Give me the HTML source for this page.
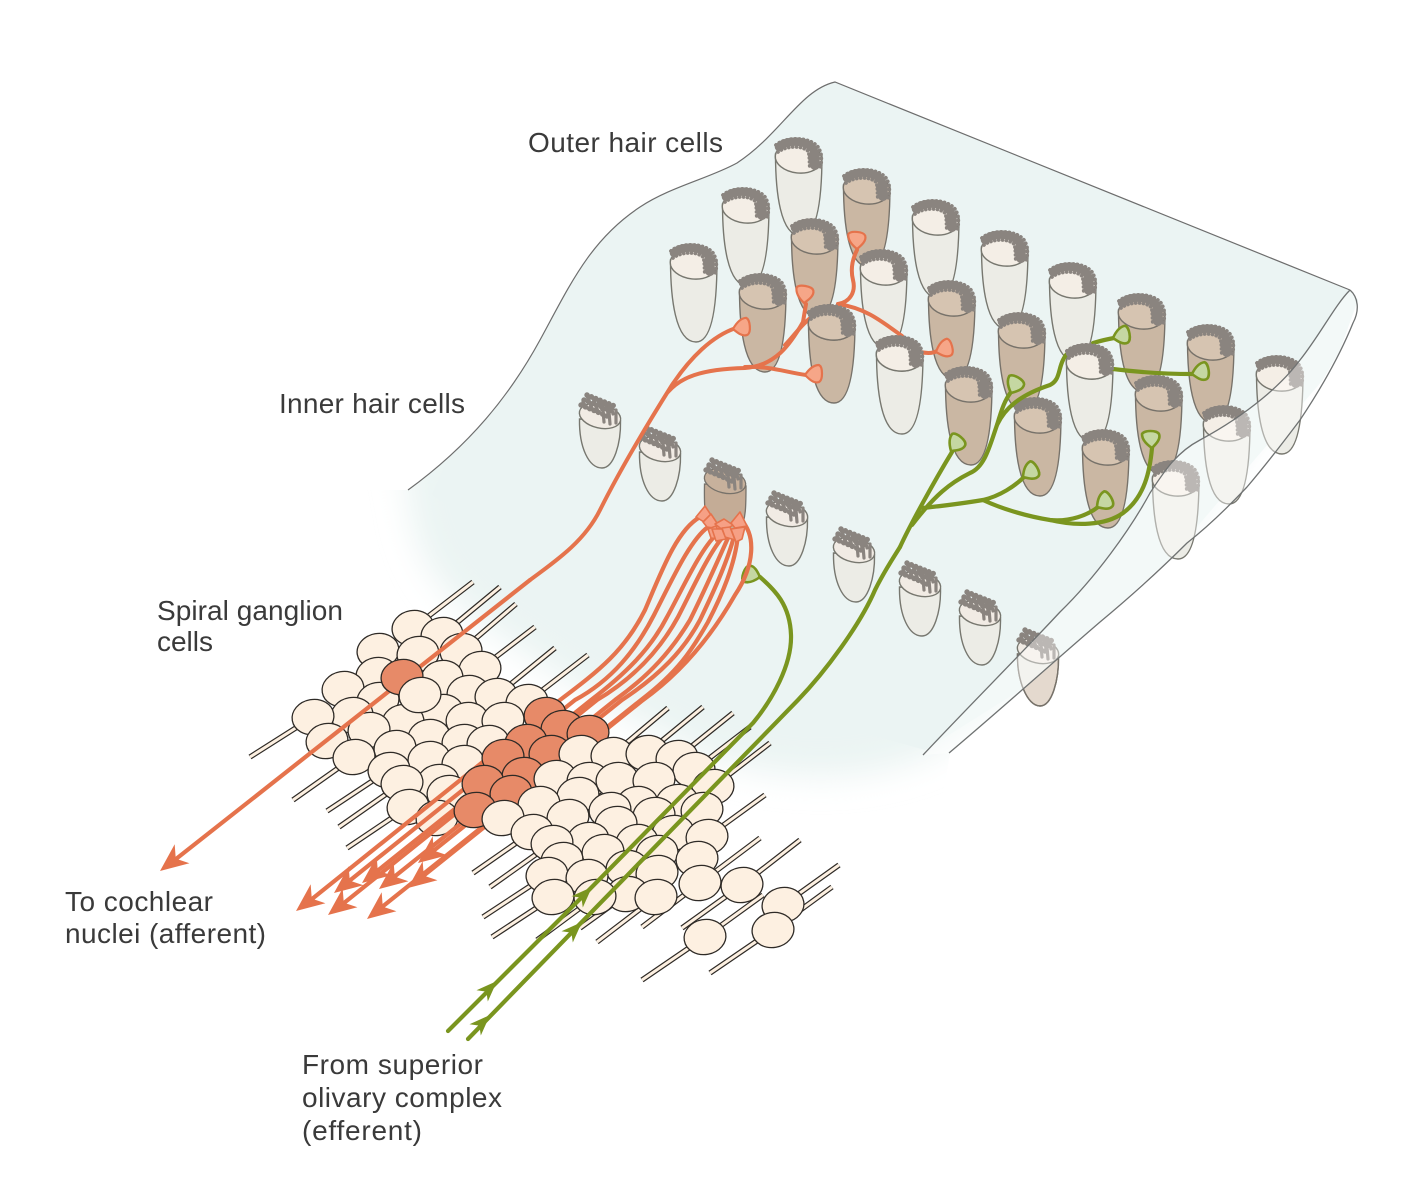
<!DOCTYPE html>
<html lang="en"><head><meta charset="utf-8"><title>Cochlear innervation</title>
<style>
html,body{margin:0;padding:0;background:#fff}
svg{display:block}
text{font-family:"Liberation Sans",sans-serif;font-size:28px;fill:#3a3a3a}
</style></head><body>
<svg xmlns="http://www.w3.org/2000/svg" width="1406" height="1191" viewBox="0 0 1406 1191">
<defs>
<filter id="bl" x="-20%" y="-20%" width="140%" height="140%"><feGaussianBlur stdDeviation="16"/></filter>
<clipPath id="sheetClip"><path d="M408 490C470 445 510 395 540 340C570 285 590 240 640 207C670 187 710 178 737 163C780 135 800 90 835 82L1350 290L1358 300L1340 350L1300 420L1247 487L1187 543L1100 622L950 753L925 900L300 900L300 490Z"/></clipPath>
<clipPath id="upperClip"><path d="M900 500L1100 500L1100 622L949 753L900 760Z"/></clipPath>

<g id="tuftO" fill="none" stroke="#8a847f" stroke-linecap="round">
<path d="M4 11C11 4 30 3 38 13C41 18 41 23 40 27" stroke-width="8.5"/>
<path d="M38 20L40 29" stroke-width="10"/>
<path d="M1 9C10 1 34 0 43 11C47 17 47 26 45 32" stroke-width="3.8" stroke-dasharray="0.1 4"/>
<path d="M3 16C11 10 26 9 33 15C35 20 34 27 35 33" stroke-width="3.6" stroke-dasharray="0.1 3.8"/>
</g>
<g id="ohcP">
<path d="M.5 18C.5 55 5 100 26 100C42 100 47 65 47 18Z" fill="#ecece6" stroke="#77776f" stroke-width="1.4"/>
<ellipse cx="23.5" cy="22" rx="23.3" ry="15" fill="#f4eee6" stroke="#77776f" stroke-width="1.4" transform="rotate(6 23.5 22)"/>
<use href="#tuftO"/>
</g>
<g id="ohcT">
<path d="M.5 18C.5 55 5 100 26 100C42 100 47 65 47 18Z" fill="#cab7a3" stroke="#77726a" stroke-width="1.4"/>
<ellipse cx="23.5" cy="22" rx="23.3" ry="15" fill="#d6c4b1" stroke="#77726a" stroke-width="1.4" transform="rotate(6 23.5 22)"/>
<use href="#tuftO"/>
</g>
<g id="topP"><ellipse cx="23.5" cy="22" rx="23.3" ry="15" fill="#f4eee6" stroke="#77776f" stroke-width="1.4" transform="rotate(6 23.5 22)"/><use href="#tuftO"/></g>
<g id="topT"><ellipse cx="23.5" cy="22" rx="23.3" ry="15" fill="#d6c4b1" stroke="#77726a" stroke-width="1.4" transform="rotate(6 23.5 22)"/><use href="#tuftO"/></g>

<g id="tuftI" fill="none" stroke="#8a847f" stroke-linecap="round">
<path d="M8 2L38 14M5 7L35 19M2 12L28 23M12 4L36 17" stroke-width="5.4" stroke-dasharray="0.1 4.6"/>
<path d="M8 3L11 11M14 5L17 14M20 7L23 17M26 10L29 20M32 12L34 21M10 9L13 15M17 12L19 19M24 17L25 29M30 19L31 31M37 17L37 30M4 9L8 15" stroke-width="3.2"/>
</g>
<g id="ihcP">
<path d="M.5 26C0 55 10 75 23 75C35 75 42 50 41.5 28Z" fill="#ecece6" stroke="#77776f" stroke-width="1.4"/>
<ellipse cx="21" cy="23" rx="21" ry="12" fill="#f1ebe4" stroke="#77776f" stroke-width="1.4" transform="rotate(13 21 23)"/>
<use href="#tuftI"/>
</g>

<g id="tO"><path d="M0 0C4 -6 9 -10 14 -10C18 -8 18 5 14 7C9 9 4 4 0 0Z" fill="#f6a688" stroke="#e5734c" stroke-width="2.2" stroke-linejoin="round"/></g>
<g id="tG"><path d="M0 0C4 -6 9 -10 14 -10C18 -8 18 5 14 7C9 9 4 4 0 0Z" fill="#c5d7a2" stroke="#7a951f" stroke-width="2.6" stroke-linejoin="round"/></g>
<path id="aO" d="M0 0L28 -12L20 0L28 12Z" fill="#e5734c"/>
<path id="aG" d="M0 0L21 -8L15 0L21 8Z" fill="#7a951f"/>
<ellipse id="g" cx="0" cy="0" rx="21" ry="17.5" transform="rotate(-10)"/>
<path id="tails" d="M413 628L473 582M442 635L500 587M461 651L516 604M480 669L535 627M496 696L555 648M527 702L588 655M612 755L668 708M647 753L703 707M677 758L733 713M694 770L750 727M713 787L770 743M707 837L765 795M700 883L760 838M742 885L800 840M705 937L763 895M773 930L832 887M783 905L839 865M313 717L250 757M354 757L293 800M389 770L327 811M402 783L339 827M408 807L347 848M532 832L473 873M552 843L490 887M547 875L483 917M553 897L492 937M595 897L537 940M656 897L597 942M700 883L642 927M742 885L682 928M705 937L642 980M773 930L710 973M627 894L580 928"/>
</defs>

<!-- sheet -->
<g clip-path="url(#sheetClip)">
<path d="M400 470L840 70L1370 280L1120 640L930 755C850 790 750 778 690 748C620 715 560 680 500 636C445 600 412 560 408 490Z" fill="#ebf4f3" filter="url(#bl)"/>
<path d="M432 495L600 100L835 60L1400 290L1100 640L925 750L800 715L600 610L470 520Z" fill="#ebf4f3"/>
</g>
<path d="M408 490C470 445 510 395 540 340C570 285 590 240 640 207C670 187 710 178 737 163C780 135 800 90 835 82L1350 290" fill="none" stroke="#6d6d6d" stroke-width="1.2"/>

<!-- inner hair cells -->
<use href="#ihcP" x="579" y="393"/>
<use href="#ihcP" x="639" y="426"/>
<path d="M704.5 484C704 510 705 522 712 530L740 530C746 520 746 505 746 486Z" fill="#c4ac96" stroke="#77726a" stroke-width="1.3"/>
<ellipse cx="725" cy="481" rx="21" ry="12" fill="#c7b19c" stroke="#77726a" stroke-width="1.3" transform="rotate(13 725 481)"/>
<use href="#tuftI" x="704" y="458"/>
<use href="#ihcP" x="766" y="491"/>
<use href="#ihcP" x="833" y="527"/>
<use href="#ihcP" x="899" y="561"/>
<use href="#ihcP" x="959" y="590"/>
<path d="M1017.500 654C1017 680 1027 706 1040 706C1052 706 1059 680 1058.500 656Z" fill="#e4d9ce" stroke="#77726a" stroke-width="1.4"/>
<g clip-path="url(#upperClip)"><path d="M1017.500 654C1017 680 1027 706 1040 706C1052 706 1059 680 1058.500 656Z" fill="#eaeae4"/></g>
<path d="M1017.500 654C1017 680 1027 706 1040 706C1052 706 1059 680 1058.500 656Z" fill="none" stroke="#77726a" stroke-width="1.4"/>
<ellipse cx="1038" cy="651" rx="21" ry="12" fill="#f1ebe4" stroke="#77776f" stroke-width="1.4" transform="rotate(13 1038 651)"/>
<use href="#tuftI" x="1017" y="628"/>

<!-- outer hair cells -->
<use href="#ohcP" x="775" y="136"/>
<use href="#ohcT" x="843" y="167"/>
<use href="#ohcP" x="722" y="186"/>
<use href="#ohcP" x="912" y="198"/>
<use href="#ohcT" x="791" y="217"/>
<use href="#ohcP" x="981" y="229"/>
<use href="#ohcP" x="670" y="242"/>
<use href="#ohcP" x="860" y="248"/>
<use href="#ohcP" x="1049" y="261"/>
<use href="#ohcT" x="739" y="272"/>
<use href="#ohcT" x="928" y="279"/>
<use href="#ohcT" x="1118" y="292"/>
<use href="#ohcT" x="808" y="303"/>
<use href="#ohcT" x="998" y="311"/>
<use href="#ohcT" x="1187" y="323"/>
<use href="#ohcP" x="876" y="334"/>
<use href="#ohcP" x="1066" y="342"/>
<use href="#ohcP" x="1256" y="354"/>
<use href="#ohcT" x="945" y="365"/>
<use href="#ohcT" x="1135" y="374"/>
<use href="#ohcT" x="1014" y="396"/>
<use href="#ohcP" x="1203" y="404"/>
<use href="#ohcT" x="1082" y="428"/>
<use href="#ohcP" x="1152" y="459"/>

<!-- upper fibres -->
<g fill="none" stroke-linecap="round" stroke-linejoin="round">
<g stroke="#e5734c" stroke-width="4">
<path d="M736 328C712 336 690 358 672 385C650 420 620 470 600 510C585 540 560 558 530 580"/>
<path d="M668 392C680 378 700 369 745 368C775 366 790 345 803 322L806 304"/>
<path d="M745 367C770 366 785 372 806 375"/>
<path d="M785 345C795 335 800 325 820 310"/>
<path d="M838 304C850 302 856 292 853 280C850 268 853 258 857 250"/>
<path d="M838 304C865 308 880 320 902 336"/>
<path d="M920 352C925 353 932 354 937 351"/>
</g>
<g stroke="#7a951f" stroke-width="4.2">
<path d="M900 547C910 525 935 480 952 452"/>
<path d="M912 525C935 495 950 483 970 473C985 467 990 445 997 425C1002 408 1005 400 1011 392"/>
<path d="M923 508C950 505 965 503 983 500C1000 496 1015 486 1024 477"/>
<path d="M983 500C1000 508 1025 516 1050 520C1070 522 1088 515 1098 507"/>
<path d="M1050 520C1075 526 1105 526 1123 513C1145 497 1150 470 1152 448"/>
<path d="M997 425C1005 408 1020 395 1050 385C1060 380 1058 370 1063 360C1065 356 1066 354 1070 352"/>
<path d="M1093 343C1100 341 1108 339 1114 338"/>
<path d="M1113 369C1145 373 1170 374 1193 374"/>
</g>
</g>
<use href="#tO" transform="translate(733 329) rotate(-5)"/>
<use href="#tO" transform="translate(804 303) rotate(-80)"/>
<use href="#tO" transform="translate(805 375) rotate(0)"/>
<use href="#tO" transform="translate(857 249) rotate(-85)"/>
<use href="#tO" transform="translate(936 352) rotate(-15)"/>
<use href="#tG" transform="translate(1011 393) rotate(-60)"/>
<use href="#tG" transform="translate(951 451) rotate(-50)"/>
<use href="#tG" transform="translate(1023 477) rotate(-30)"/>
<use href="#tG" transform="translate(1097 507) rotate(-30)"/>
<use href="#tG" transform="translate(1152 448) rotate(-90)"/>
<use href="#tG" transform="translate(1113 338) rotate(-10)"/>
<use href="#tG" transform="translate(1192 374) rotate(-8)"/>
<use href="#tG" transform="translate(760 577) rotate(200)"/>
<use href="#topT" x="808" y="303"/>
<use href="#topP" x="876" y="334"/>
<use href="#topP" x="1066" y="342"/>

<!-- front flap -->
<path d="M1350 290C1335 305 1320 335 1300 360C1283 383 1250 413 1200 440C1177 452 1165 470 1150 493C1130 530 1095 578 1060 612C1020 655 970 705 923 755L949 753C1000 710 1050 665 1100 622C1130 597 1160 570 1187 543C1210 525 1230 505 1247 487C1270 460 1285 440 1300 420C1320 390 1340 355 1353 323C1360 310 1358 297 1350 290Z" fill="#fff" fill-opacity=".42"/>
<path d="M1350 290C1335 305 1320 335 1300 360C1283 383 1250 413 1200 440C1177 452 1165 470 1150 493C1130 530 1095 578 1060 612C1020 655 970 705 923 755" fill="none" stroke="#6f7272" stroke-width="1.3"/>
<path d="M1350 290C1358 297 1360 310 1353 323C1340 355 1320 390 1300 420C1285 440 1270 460 1247 487C1230 505 1210 525 1187 543C1160 570 1130 597 1100 622C1050 665 1000 710 949 753" fill="none" stroke="#6f7272" stroke-width="1.3"/>

<!-- ganglion tails -->
<g fill="none">
<use href="#tails" stroke="#2e2a26" stroke-width="5.4"/>
<use href="#tails" stroke="#fdf0e1" stroke-width="3"/>
</g>

<!-- ganglion cells (back) -->
<g fill="#fdf0e1" stroke="#2e2a26" stroke-width="1.3">
<use href="#g" x="413" y="628"/><use href="#g" x="442" y="635"/><use href="#g" x="378" y="651"/><use href="#g" x="461" y="651"/><use href="#g" x="418" y="654"/><use href="#g" x="480" y="669"/><use href="#g" x="377" y="675"/><use href="#g" x="442" y="678"/><use href="#g" x="343" y="689"/><use href="#g" x="468" y="693"/><use href="#g" x="496" y="696"/><use href="#g" x="378" y="700"/><use href="#g" x="527" y="702"/><use href="#g" x="352" y="715"/><use href="#g" x="313" y="717"/><use href="#g" x="442" y="712"/><use href="#g" x="467" y="720"/><use href="#g" x="503" y="720"/><use href="#g" x="403" y="722"/><use href="#g" x="369" y="730"/><use href="#g" x="429" y="737"/><use href="#g" x="463" y="742"/><use href="#g" x="488" y="743"/><use href="#g" x="327" y="741"/><use href="#g" x="395" y="748"/><use href="#g" x="354" y="757"/><use href="#g" x="429" y="759"/><use href="#g" x="463" y="763"/><use href="#g" x="389" y="770"/><use href="#g" x="438" y="782"/><use href="#g" x="402" y="783"/><use href="#g" x="448" y="793"/><use href="#g" x="408" y="807"/><use href="#g" x="437" y="818"/>
</g>

<!-- afferent fibres -->
<g fill="none" stroke="#e5734c" stroke-width="4.2" stroke-linecap="round">
<path d="M530 580L176 859"/>
<path d="M700 517C677 530 662 570 645 610C625 650 600 670 560 700L312 899"/>
<path d="M708 527C690 540 672 580 654 615C636 650 612 680 575 700L348 882"/>
<path d="M716 535C700 550 682 590 667 617C650 650 624 675 591 700L376 872"/>
<path d="M722 538C708 555 692 590 678 617C660 650 634 678 597 700L344 903"/>
<path d="M728 538C718 560 705 590 690 620C672 650 650 675 615 700L394 877"/>
<path d="M733 540C726 565 712 595 700 620C684 650 660 675 622 700L432 852"/>
<path d="M738 535C735 565 722 595 708 622C692 650 678 672 641 700L382 907"/>
<path d="M741 520C756 535 755 565 735 595C715 630 685 670 643 700L422 877"/>
</g>
<use href="#aO" transform="translate(160 871) rotate(-38)"/>
<use href="#aO" transform="translate(296 911) rotate(-38)"/>
<use href="#aO" transform="translate(334 893) rotate(-38)"/>
<use href="#aO" transform="translate(328 915) rotate(-38)"/>
<use href="#aO" transform="translate(362 883) rotate(-38)"/>
<use href="#aO" transform="translate(367 919) rotate(-38)"/>
<use href="#aO" transform="translate(379 889) rotate(-38)"/>
<use href="#aO" transform="translate(408 888) rotate(-38)"/>
<use href="#aO" transform="translate(418 863) rotate(-38)"/>

<!-- IHC terminals -->
<g fill="#f6a085" stroke="#e5734c" stroke-width="1.6" stroke-linejoin="round">
<path d="M696 517L705 506L713 518L704 522Z"/>
<path d="M703 522L711 514L721 529L707 527Z"/>
<path d="M715 524L724 519L733 525L724 531Z"/>
<path d="M731 523L740 512L747 526L735 528Z"/>
<path d="M708 529L716 526L721 539L711 538Z"/>
<path d="M722 528L730 527L735 540L725 537Z"/>
<path d="M731 529L745 527L742 539L736 542Z"/>
<path d="M712 529L722 529L726 539L716 541Z"/>
</g>

<!-- ganglion salmon -->
<g fill="#e78a68" stroke="#2e2a26" stroke-width="1.3">
<use href="#g" x="402" y="677"/><use href="#g" x="545" y="715"/><use href="#g" x="562" y="728"/><use href="#g" x="588" y="733"/><use href="#g" x="526" y="742"/><use href="#g" x="550" y="753"/><use href="#g" x="503" y="757"/><use href="#g" x="523" y="775"/><use href="#g" x="483" y="783"/><use href="#g" x="511" y="793"/><use href="#g" x="475" y="810"/>
</g>

<!-- ganglion cells (front) -->
<g fill="#fdf0e1" stroke="#2e2a26" stroke-width="1.3">
<use href="#g" x="420" y="695"/><use href="#g" x="580" y="753"/><use href="#g" x="612" y="755"/><use href="#g" x="647" y="753"/><use href="#g" x="677" y="758"/><use href="#g" x="694" y="770"/><use href="#g" x="555" y="778"/><use href="#g" x="588" y="780"/><use href="#g" x="617" y="780"/><use href="#g" x="654" y="780"/><use href="#g" x="713" y="787"/><use href="#g" x="578" y="795"/><use href="#g" x="539" y="804"/><use href="#g" x="637" y="804"/><use href="#g" x="677" y="802"/><use href="#g" x="610" y="810"/><use href="#g" x="702" y="810"/><use href="#g" x="654" y="815"/><use href="#g" x="568" y="817"/><use href="#g" x="503" y="818"/><use href="#g" x="616" y="824"/><use href="#g" x="532" y="832"/><use href="#g" x="673" y="833"/><use href="#g" x="707" y="837"/><use href="#g" x="588" y="840"/><use href="#g" x="637" y="842"/><use href="#g" x="552" y="843"/><use href="#g" x="603" y="852"/><use href="#g" x="657" y="853"/><use href="#g" x="697" y="859"/><use href="#g" x="562" y="860"/><use href="#g" x="627" y="868"/><use href="#g" x="657" y="873"/><use href="#g" x="547" y="875"/><use href="#g" x="587" y="877"/><use href="#g" x="700" y="883"/><use href="#g" x="742" y="885"/><use href="#g" x="627" y="894"/><use href="#g" x="553" y="897"/><use href="#g" x="595" y="897"/><use href="#g" x="656" y="897"/><use href="#g" x="783" y="905"/><use href="#g" x="773" y="930"/><use href="#g" x="705" y="937"/>
</g>

<!-- efferent fibres -->
<g fill="none" stroke="#7a951f" stroke-width="4.2" stroke-linecap="round">
<path d="M448 1031L587 892L753 723C772 700 792 665 791 635C790 605 775 590 760 577"/>
<path d="M468 1039L577 927L798 700C825 672 860 625 875 590C885 570 892 560 900 547"/>
</g>
<use href="#aG" transform="translate(497 981) rotate(135)"/>
<use href="#aG" transform="translate(592 887) rotate(135)"/>
<use href="#aG" transform="translate(490 1015) rotate(135)"/>
<use href="#aG" transform="translate(582 922) rotate(135)"/>

<!-- labels -->
<text x="528" y="152" textLength="195">Outer hair cells</text>
<text x="279" y="413" textLength="186">Inner hair cells</text>
<text x="157" y="620" textLength="186">Spiral ganglion</text>
<text x="157" y="651" textLength="56">cells</text>
<text x="65" y="911" textLength="148">To cochlear</text>
<text x="65" y="943" textLength="201">nuclei (afferent)</text>
<text x="302" y="1074" textLength="181">From superior</text>
<text x="302" y="1107" textLength="200">olivary complex</text>
<text x="302" y="1140" textLength="120">(efferent)</text>
</svg>
</body></html>
